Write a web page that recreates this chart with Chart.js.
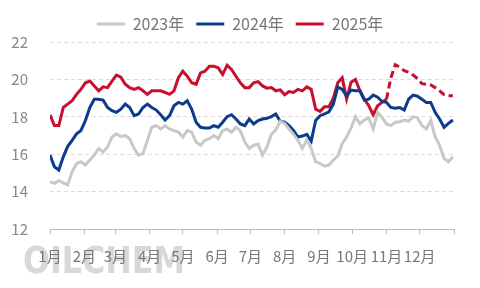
<!DOCTYPE html>
<html>
<head>
<meta charset="utf-8">
<script src="https://cdn.jsdelivr.net/npm/chart.js@4.4.1/dist/chart.umd.min.js"></script>
<style>
body{margin:0;background:#fff;}
#wrap{width:480px;height:288px;}
</style>
</head>
<body>
<div id="wrap"><canvas id="chart" width="480" height="288"></canvas></div>
<script>
// one value every 4 days from Jan 1
var step = 4;
var monthStarts = [0, 31, 59, 90, 120, 151, 181, 212, 243, 273, 304, 334, 365];
var monthLabels = ['1月','2月','3月','4月','5月','6月','7月','8月','9月','10月','11月','12月'];

var y2023 = [14.53,14.44,14.58,14.47,14.36,15.06,15.5,15.6,15.42,15.69,15.95,16.3,16.12,16.39,16.92,17.09,
  16.95,17.0,16.83,16.3,15.95,16.03,16.74,17.44,17.53,17.35,17.53,17.35,17.26,17.18,16.92,17.26,17.18,16.65,
  16.48,16.74,16.83,17.0,16.83,17.26,17.35,17.18,17.44,17.26,16.65,16.3,16.48,16.53,15.95,16.39,17.06,17.3,
  17.76,17.65,17.35,17.06,16.74,16.3,16.78,16.3,15.6,15.5,15.36,15.42,15.69,15.9,16.56,16.92,17.4,18.01,17.62,
  17.83,17.94,17.35,18.24,17.97,17.62,17.53,17.71,17.74,17.83,17.76,18.01,17.94,17.53,17.35,17.8,16.92,16.48,
  15.77,15.6,15.86];

var y2024 = [15.95,15.33,15.15,15.86,16.42,16.74,17.09,17.27,17.8,18.5,18.94,18.94,18.89,18.5,18.33,18.24,
  18.41,18.68,18.5,18.06,18.15,18.5,18.68,18.5,18.36,18.11,17.83,18.06,18.59,18.77,18.68,18.86,18.41,17.71,
  17.44,17.4,17.4,17.53,17.44,17.71,18.01,18.11,17.88,17.62,17.53,17.88,17.62,17.8,17.88,17.92,18.01,18.15,
  17.76,17.71,17.53,17.27,16.92,16.97,17.06,16.7,17.8,18.06,18.15,18.27,18.68,19.6,19.47,19.12,19.43,19.39,
  19.39,18.89,18.94,19.16,19.05,18.82,18.77,18.5,18.46,18.5,18.36,18.94,19.16,19.1,18.94,18.77,18.77,18.24,
  17.88,17.44,17.65,17.83];

var y2025 = [18.1,17.53,17.53,18.5,18.68,18.86,19.2,19.47,19.82,19.91,19.65,19.39,19.6,19.56,19.91,20.23,
  20.12,19.74,19.56,19.47,19.56,19.39,19.2,19.39,19.39,19.39,19.3,19.2,19.39,20.09,20.44,20.17,19.82,19.74,
  20.35,20.44,20.7,20.7,20.62,20.26,20.76,20.53,20.17,19.82,19.56,19.56,19.82,19.88,19.65,19.53,19.56,19.39,
  19.44,19.18,19.35,19.3,19.47,19.39,19.6,19.47,18.41,18.29,18.54,18.54,19.0,19.82,20.09,18.95,19.85,20.0,
  19.39,18.94,18.59,18.11,18.59,18.77,18.94,
  20.09,20.79,20.65,20.47,20.38,20.23,20.05,19.77,19.74,19.7,19.56,19.39,19.18,19.12,19.12];
var dashFrom = 76; // 2025 line is dashed from this point on

function toPoints(arr) {
  return arr.map(function (v, i) { return {x: i * step, y: v}; });
}

var font = {family: '"Noto Sans CJK SC", "Noto Sans", sans-serif', size: 15};

var watermark = {
  id: 'watermark',
  afterLayout: function (chart) {
    // legend sits a little right of the canvas centre in the original
    chart.legend.left += 8;
    chart.legend.right += 8;
  },
  beforeDraw: function (chart) {
    var ctx = chart.ctx;
    ctx.save();
    ctx.font = 'bold 38px "DejaVu Sans"';
    var w = ctx.measureText('OILCHEM').width;
    var g = ctx.createLinearGradient(0, 235, 0, 263);
    g.addColorStop(0, 'rgba(190,190,190,0.6)');
    g.addColorStop(1, 'rgba(255,255,255,0)');
    ctx.fillStyle = g;
    ctx.translate(23, 263);
    ctx.scale(162 / w, 1);
    ctx.fillText('OILCHEM', 0, 0);
    ctx.restore();
  }
};

new Chart(document.getElementById('chart'), {
  type: 'line',
  data: {
    datasets: [
      {label: '2023年', data: toPoints(y2023), borderColor: '#c8c8c8', backgroundColor: '#c8c8c8', borderWidth: 3, pointRadius: 0},
      {label: '2024年', data: toPoints(y2024), borderColor: '#0b3c8c', backgroundColor: '#0b3c8c', borderWidth: 3, pointRadius: 0},
      {label: '2025年', data: toPoints(y2025), borderColor: '#c8102e', backgroundColor: '#c8102e', borderWidth: 3, pointRadius: 0,
        segment: {borderDash: function (c) { return c.p0DataIndex >= dashFrom ? [7, 4] : undefined; }}}
    ]
  },
  options: {
    responsive: false,
    animation: false,
    layout: {padding: {left: 10, right: 26, top: 4, bottom: 10}},
    plugins: {
      legend: {
        labels: {
          boxWidth: 28, boxHeight: 3, padding: 12, color: '#777',
          font: {family: font.family, size: 16},
          generateLabels: function (chart) {
            var items = Chart.defaults.plugins.legend.labels.generateLabels(chart);
            items.forEach(function (it) { it.lineWidth = 0; it.fillStyle = it.strokeStyle; it.lineDash = []; });
            return items;
          }
        }
      },
      tooltip: {enabled: false}
    },
    scales: {
      x: {
        type: 'linear', min: 0, max: 365,
        afterBuildTicks: function (s) { s.ticks = monthStarts.map(function (v) { return {value: v}; }); },
        ticks: {
          autoSkip: false, maxRotation: 0, padding: 13, color: '#777', font: font,
          callback: function (v, i) { return monthLabels[i] || ''; }
        },
        grid: {drawOnChartArea: false, drawTicks: true, tickLength: 5, color: '#bbb'},
        border: {display: true, color: '#bbb'}
      },
      y: {
        min: 12, max: 22,
        afterFit: function (s) { s.width = 40; },
        ticks: {stepSize: 2, padding: 22, color: '#888', font: font},
        grid: {color: '#dcdcdc', drawTicks: false},
        border: {display: false, dash: [4, 3]}
      }
    }
  },
  plugins: [watermark]
});
</script>
</body>
</html>
